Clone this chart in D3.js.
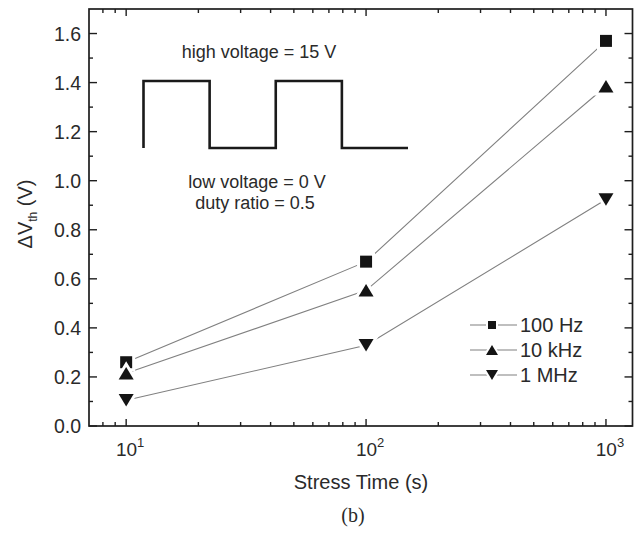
<!DOCTYPE html>
<html>
<head>
<meta charset="utf-8">
<script src="https://cdn.jsdelivr.net/npm/d3@7"></script>
<style>
  body { margin: 0; background: #fff; }
  text { font-family: "Liberation Sans", Arial, sans-serif; fill: #2a2a2a; }
</style>
</head>
<body>
<div id="chart"></div>
<script>
// stress times (s)
var times = [10, 100, 1000]
// delta Vth (V) for each frequency
var hz100 = [0.26, 0.67, 1.57]
var khz10 = [0.215, 0.553, 1.385]
var mhz1 = [0.105, 0.329, 0.923]
var seriesNames = ["100 Hz", "10 kHz", "1 MHz"]
var seriesShapes = ["square", "up", "down"]
var yTicks = [0, 0.2, 0.4, 0.6, 0.8, 1.0, 1.2, 1.4, 1.6]
var xMajor = [10, 100, 1000]
var xExp = ["1", "2", "3"]
// inset waveform: [time in periods, level 1 = high, 0 = low]
var wave = [[0, 0], [0, 1], [0.5, 1], [0.5, 0], [1, 0], [1, 1], [1.5, 1], [1.5, 0], [2, 0]]

const W = 641, H = 533
const svg = d3.select("#chart").append("svg")
    .attr("width", W).attr("height", H)

const x = d3.scaleLog().domain([7, 1290]).range([89, 632.5])
const y = d3.scaleLinear().domain([0, 1.7]).range([426, 9])

// frame
svg.append("rect")
    .attr("x", x(7)).attr("y", y(1.7))
    .attr("width", x(1290) - x(7)).attr("height", y(0) - y(1.7))
    .attr("fill", "none").attr("stroke", "#1e1e1e").attr("stroke-width", 1.7)

// minor ticks
var xMinor = []
;[1, 10, 100].forEach(function(d){
    for (var k = 2; k <= 9; k++) {
        var v = d * k
        if (v > 7 && v < 1290 && xMajor.indexOf(v) < 0) xMinor.push(v)
    }
})
var yMinor = d3.range(1, 17, 2).map(d => d / 10)

var tg = svg.append("g").attr("stroke", "#1e1e1e").attr("stroke-width", 1.4)
// bottom + top
xMajor.forEach(function(v){
    tg.append("line").attr("x1", x(v)).attr("x2", x(v)).attr("y1", y(0)).attr("y2", y(0) - 7)
    tg.append("line").attr("x1", x(v)).attr("x2", x(v)).attr("y1", y(1.7)).attr("y2", y(1.7) + 7)
})
xMinor.forEach(function(v){
    tg.append("line").attr("x1", x(v)).attr("x2", x(v)).attr("y1", y(0)).attr("y2", y(0) - 4)
    tg.append("line").attr("x1", x(v)).attr("x2", x(v)).attr("y1", y(1.7)).attr("y2", y(1.7) + 4)
})
// left + right
yTicks.forEach(function(v){
    tg.append("line").attr("y1", y(v)).attr("y2", y(v)).attr("x1", x(7)).attr("x2", x(7) + 8)
    tg.append("line").attr("y1", y(v)).attr("y2", y(v)).attr("x1", x(1290)).attr("x2", x(1290) - 8)
})
yMinor.forEach(function(v){
    tg.append("line").attr("y1", y(v)).attr("y2", y(v)).attr("x1", x(7)).attr("x2", x(7) + 4)
    tg.append("line").attr("y1", y(v)).attr("y2", y(v)).attr("x1", x(1290)).attr("x2", x(1290) - 4)
})

// y labels
svg.append("g").selectAll("text").data(yTicks).enter().append("text")
    .attr("x", 81).attr("y", d => y(d)).attr("dy", "0.36em")
    .attr("text-anchor", "end").style("font-size", "19.5px")
    .text(d => d.toFixed(1))

// x labels with superscripts
var xl = svg.append("g").selectAll("text").data(xMajor).enter().append("text")
    .attr("x", d => x(d) + 4).attr("y", 456)
    .attr("text-anchor", "middle").style("font-size", "19px")
xl.append("tspan").text("10")
xl.append("tspan").attr("dy", -9).style("font-size", "13px").text((d, i) => xExp[i])

// axis titles
svg.append("text").attr("x", 361).attr("y", 489)
    .attr("text-anchor", "middle").style("font-size", "20px").text("Stress Time (s)")
var yt = svg.append("text")
    .attr("transform", "translate(32,214) rotate(-90)")
    .attr("text-anchor", "middle").style("font-size", "20px")
yt.append("tspan").text("\u0394V")
yt.append("tspan").attr("dy", 5).style("font-size", "12px").text("th")
yt.append("tspan").attr("dy", -5).text(" (V)")

svg.append("text").attr("x", 353).attr("y", 522)
    .attr("text-anchor", "middle")
    .style("font-family", "'Liberation Serif', 'Times New Roman', serif")
    .style("font-size", "20px").text("(b)")

// markers
function markerPath(shape, s){
    if (shape == "square") return "M" + (-s/2) + "," + (-s/2) + "h" + s + "v" + s + "h" + (-s) + "Z"
    var w = s * 0.6, h = s * 0.5
    if (shape == "up") return "M0," + (-h) + "L" + w + "," + h + "L" + (-w) + "," + h + "Z"
    return "M0," + h + "L" + w + "," + (-h) + "L" + (-w) + "," + (-h) + "Z"
}

var allSeries = [hz100, khz10, mhz1]
var line = d3.line().x((d, i) => x(times[i])).y(d => y(d))

allSeries.forEach(function(vals, si){
    svg.append("path").datum(vals).attr("d", line)
        .attr("fill", "none").attr("stroke", "#808080").attr("stroke-width", 1.1)
})
allSeries.forEach(function(vals, si){
    svg.append("g").selectAll("path").data(vals).enter().append("path")
        .attr("transform", (d, i) => "translate(" + x(times[i]) + "," + y(d) + ")")
        .attr("d", markerPath(seriesShapes[si], si == 0 ? 12 : 12.5))
        .attr("fill", "#141414")
        .attr("stroke", "#fff").attr("stroke-width", 6)
        .style("paint-order", "stroke")
})

// legend
var legY = [325, 350, 375]
seriesNames.forEach(function(name, si){
    var lg = svg.append("g").attr("transform", "translate(0," + legY[si] + ")")
    lg.append("line").attr("x1", 470).attr("x2", 517).attr("y1", 0).attr("y2", 0)
        .attr("stroke", "#808080").attr("stroke-width", 1.1)
    lg.append("path").attr("transform", "translate(492,0)")
        .attr("d", markerPath(seriesShapes[si], si == 0 ? 8 : 10))
        .attr("fill", "#141414").attr("stroke", "#fff").attr("stroke-width", 4)
        .style("paint-order", "stroke")
    lg.append("text").attr("x", 520).attr("y", 0).attr("dy", "0.36em")
        .style("font-size", "20px").text(name)
})

// inset waveform
var wx = d3.scaleLinear().domain([0, 2]).range([143.5, 408])
var wy = d3.scaleLinear().domain([0, 1]).range([148, 81])
svg.append("path").datum(wave)
    .attr("d", d3.line().x(d => wx(d[0])).y(d => wy(d[1])))
    .attr("fill", "none").attr("stroke", "#1a1a1a").attr("stroke-width", 2.6)
    .attr("stroke-linejoin", "miter")

svg.append("text").attr("x", 259).attr("y", 58).attr("text-anchor", "middle")
    .style("font-size", "18px").text("high voltage = 15 V")
svg.append("text").attr("x", 257).attr("y", 188).attr("text-anchor", "middle")
    .style("font-size", "18px").text("low voltage = 0 V")
svg.append("text").attr("x", 255).attr("y", 209).attr("text-anchor", "middle")
    .style("font-size", "18px").text("duty ratio = 0.5")
</script>
</body>
</html>
